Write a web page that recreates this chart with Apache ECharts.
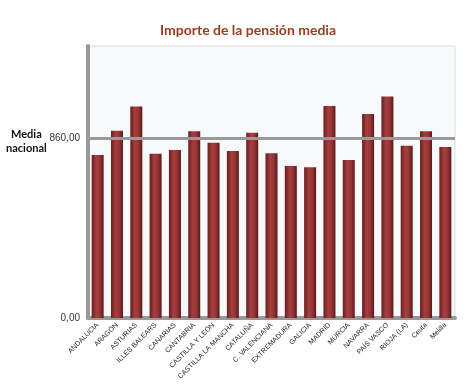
<!DOCTYPE html>
<html>
<head>
<meta charset="utf-8">
<script src="https://cdn.jsdelivr.net/npm/echarts@6/dist/echarts.min.js"></script>
<style>html,body{margin:0;padding:0;background:#fff}#c{width:472px;height:386px}</style>
</head>
<body>
<div id="c"></div>
<script>
var categories = ["ANDALUCIA","ARAGÓN","ASTURIAS","ILLES BALEARS","CANARIAS","CANTABRIA","CASTILLA Y LEÓN","CASTILLA LA MANCHA","CATALUÑA","C. VALENCIANA","EXTREMADURA","GALICIA","MADRID","MURCIA","NAVARRA","PAÍS VASCO","RIOJA (LA)","Ceuta","Melilla"];
var pensionMedia = [779,895,1011,785,803,893,838,798,885,788,726,721,1013,755,975,1059,823,892,817];
var mediaNacional = 860;
var yMax = 1300;
var titleText = "Importe de la pensión media";
var refLabel = ["Media", "nacional"];

function fmt(v){ return v.toFixed(2).replace('.', ','); }

var chart = echarts.init(document.getElementById('c'));
chart.setOption({
  animation: false,
  title: {
    text: titleText, left: 243, top: 18, textAlign: 'center',
    textStyle: { fontFamily: 'Lato', fontWeight: 'bold', fontSize: 14, color: '#9e3b1e' }
  },
  graphic: [
    { type: 'text', left: 6, top: 127,
      style: { text: refLabel.join('\n'), fontFamily: 'Lato', fontWeight: 'bold', fontSize: 11, lineHeight: 14, fill: '#111', textAlign: 'center' } }
  ],
  grid: { left: 88, right: 17, top: 46, bottom: 68, show: true, backgroundColor: '#f8f9fa', borderColor: '#dddddd', borderWidth: 1 },
  xAxis: {
    type: 'category', data: categories,
    axisLine: { lineStyle: { color: '#999', width: 4 } },
    axisTick: { show: false },
    axisLabel: { rotate: 45, interval: 0, fontFamily: 'Liberation Sans', fontSize: 7, color: '#222', margin: 6 }
  },
  yAxis: {
    type: 'value', min: 0, max: yMax, interval: mediaNacional,
    axisLine: { show: true, lineStyle: { color: '#999', width: 4 } },
    axisTick: { show: false },
    splitLine: { show: false },
    axisLabel: { showMaxLabel: false, formatter: function(v){ return fmt(v); }, fontFamily: 'Liberation Sans', fontSize: 10, color: '#333', margin: 8 }
  },
  series: [{
    type: 'bar', data: pensionMedia, barWidth: 12,
    itemStyle: {
      color: { type: 'linear', x: 0, y: 0, x2: 1, y2: 0, colorStops: [
        { offset: 0, color: '#6a1e1e' }, { offset: 0.4, color: '#a63f3f' },
        { offset: 0.7, color: '#943434' }, { offset: 1, color: '#5a1818' } ] }
    },
    markLine: {
      silent: true, symbol: 'none', label: { show: false },
      lineStyle: { color: '#999', width: 3, type: 'solid' },
      data: [{ yAxis: mediaNacional }]
    }
  }]
});
</script>
</body>
</html>
